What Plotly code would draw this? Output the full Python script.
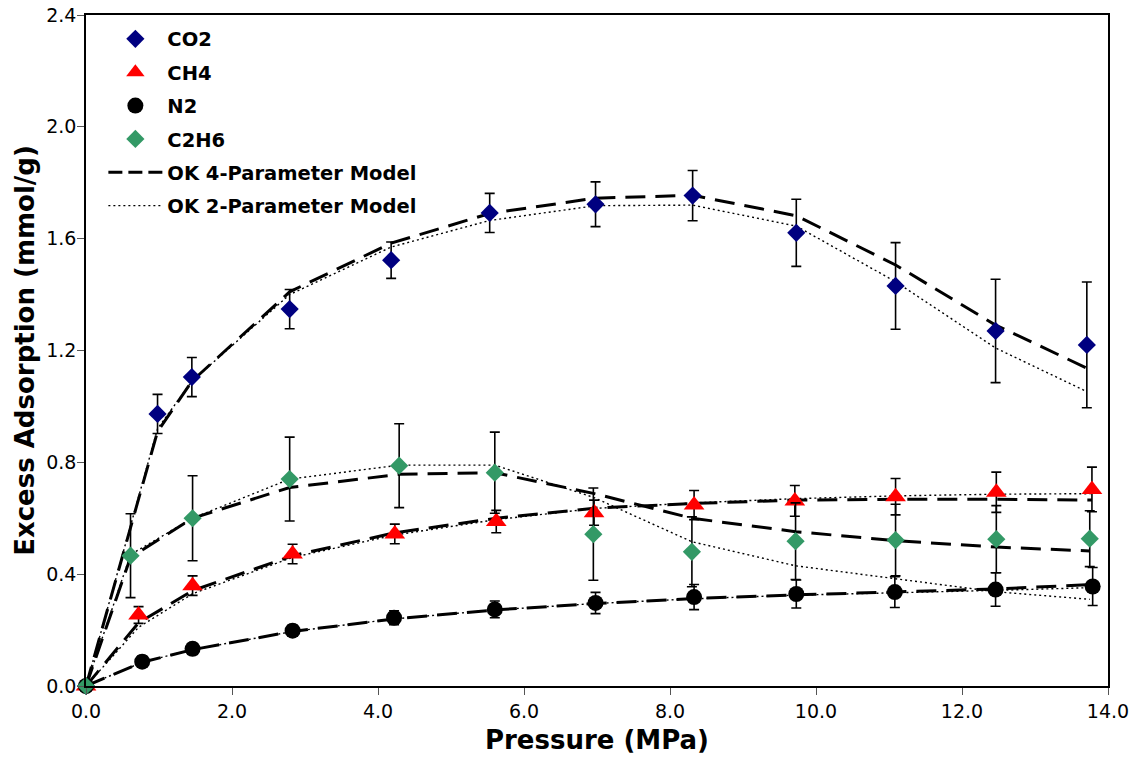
import plotly.graph_objects as go

# Pressure (MPa), excess adsorption (mmol/g), error and model fits per gas
CO2_P = [0.0, 0.98, 1.45, 2.79, 4.18, 5.53, 6.98, 8.31, 9.73, 11.09, 12.46, 13.71]
CO2_Q = [0.0, 0.973, 1.105, 1.348, 1.523, 1.692, 1.723, 1.754, 1.621, 1.431, 1.270, 1.220]
CO2_ERR = [0.0, 0.07, 0.07, 0.07, 0.065, 0.07, 0.08, 0.09, 0.12, 0.155, 0.185, 0.225]
CO2_4P = [0.0, 0.91, 1.09, 1.41, 1.584, 1.69, 1.745, 1.755, 1.682, 1.506, 1.291, 1.137]
CO2_2P = [0.0, 0.92, 1.09, 1.40, 1.57, 1.665, 1.718, 1.72, 1.645, 1.446, 1.209, 1.053]

CH4_P = [0.0, 0.72, 1.46, 2.83, 4.23, 5.62, 6.96, 8.33, 9.71, 11.09, 12.47, 13.78]
CH4_Q = [0.0, 0.254, 0.359, 0.472, 0.544, 0.588, 0.62, 0.647, 0.662, 0.677, 0.693, 0.703]
CH4_ERR = [0.0, 0.03, 0.035, 0.035, 0.035, 0.04, 0.045, 0.052, 0.055, 0.065, 0.072, 0.08]
CH4_4P = [0.0, 0.226, 0.341, 0.466, 0.548, 0.60, 0.636, 0.653, 0.665, 0.668, 0.668, 0.665]
CH4_2P = [0.0, 0.21, 0.33, 0.46, 0.54, 0.595, 0.635, 0.655, 0.67, 0.68, 0.686, 0.688]

N2_P = [0.0, 0.77, 1.46, 2.83, 4.22, 5.60, 6.98, 8.33, 9.73, 11.08, 12.46, 13.79]
N2_Q = [0.0, 0.087, 0.133, 0.198, 0.244, 0.274, 0.297, 0.318, 0.329, 0.336, 0.345, 0.356]
N2_ERR = [0.0, 0.02, 0.02, 0.02, 0.025, 0.03, 0.038, 0.045, 0.05, 0.055, 0.06, 0.068]
N2_4P = [0.0, 0.085, 0.13, 0.195, 0.24, 0.272, 0.295, 0.313, 0.326, 0.336, 0.347, 0.363]
N2_2P = [0.0, 0.085, 0.13, 0.195, 0.24, 0.272, 0.295, 0.312, 0.325, 0.333, 0.342, 0.352]

C2H6_P = [0.0, 0.61, 1.46, 2.79, 4.29, 5.60, 6.95, 8.30, 9.72, 11.09, 12.47, 13.75]
C2H6_Q = [0.0, 0.466, 0.60, 0.74, 0.788, 0.763, 0.543, 0.48, 0.518, 0.522, 0.525, 0.527]
C2H6_ERR = [0.0, 0.15, 0.152, 0.15, 0.15, 0.145, 0.165, 0.125, 0.137, 0.128, 0.12, 0.10]
C2H6_4P = [0.0, 0.46, 0.60, 0.71, 0.757, 0.763, 0.689, 0.60, 0.552, 0.52, 0.497, 0.483]
C2H6_2P = [0.0, 0.47, 0.60, 0.74, 0.79, 0.79, 0.675, 0.516, 0.43, 0.385, 0.337, 0.31]

X_TICKS = [0, 2, 4, 6, 8, 10, 12, 14]
Y_TICKS = [0.0, 0.4, 0.8, 1.2, 1.6, 2.0, 2.4]

FONT = "DejaVu Sans, Verdana, sans-serif"
DASH4 = "20px,10px"
DOT2 = "2px,3px"

fig = go.Figure()

# Model fit curves
fits = [(CO2_P, CO2_4P, CO2_2P), (CH4_P, CH4_4P, CH4_2P),
        (N2_P, N2_4P, N2_2P), (C2H6_P, C2H6_4P, C2H6_2P)]
for p, m4, m2 in fits:
    fig.add_trace(go.Scatter(x=p, y=m2, mode="lines", showlegend=False,
                             line=dict(color="black", width=1.4, dash=DOT2),
                             hoverinfo="skip"))
    fig.add_trace(go.Scatter(x=p, y=m4, mode="lines", showlegend=False,
                             line=dict(color="black", width=3, dash=DASH4),
                             hoverinfo="skip"))

# Measured data with error bars
series = [
    ("CO2", CO2_P, CO2_Q, CO2_ERR, "diamond", "#000080", 14),
    ("CH4", CH4_P, CH4_Q, CH4_ERR, "triangle-up", "#FF0000", 18),
    ("N2", N2_P, N2_Q, N2_ERR, "circle", "black", 16),
    ("C2H6", C2H6_P, C2H6_Q, C2H6_ERR, "diamond", "#339966", 14),
]
for i, (name, p, q, e, sym, col, sz) in enumerate(series):
    fig.add_trace(go.Scatter(
        x=p, y=q, name=name, mode="markers", cliponaxis=False,
        legendgroup=f"g{i}",
        marker=dict(symbol=sym, color=col, size=sz, line=dict(width=0)),
        error_y=dict(type="data", array=e, visible=True, color="black",
                     thickness=1.6, width=5),
    ))

# Legend entries for the model curves
fig.add_trace(go.Scatter(x=[None], y=[None], mode="lines", name="OK 4-Parameter Model",
                         legendgroup="g4",
                         line=dict(color="black", width=3, dash="14px,6px")))
fig.add_trace(go.Scatter(x=[None], y=[None], mode="lines", name="OK 2-Parameter Model",
                         legendgroup="g5",
                         line=dict(color="black", width=1.4, dash=DOT2)))

axis_common = dict(
    showline=True, linecolor="black", linewidth=1.5, mirror=True,
    ticks="outside", ticklen=7, tickwidth=1, tickcolor="#555555",
    showgrid=False, zeroline=False, automargin=False,
    tickfont=dict(family=FONT, size=19, color="black"),
)

fig.update_layout(
    width=1142, height=763,
    margin=dict(l=86, r=34, t=15, b=77),
    paper_bgcolor="white", plot_bgcolor="white",
    font=dict(family=FONT, color="black"),
    xaxis=dict(range=[0, 14], tickvals=X_TICKS,
               ticktext=[f"{v:.1f}" for v in X_TICKS],
               title=dict(text="Pressure (MPa)", standoff=10,
                          font=dict(family=FONT, size=26, weight="bold")),
               **axis_common),
    yaxis=dict(range=[0, 2.4], tickvals=Y_TICKS,
               ticktext=[f"{v:.1f}" for v in Y_TICKS],
               ticklabelstandoff=-3,
               title=dict(text="Excess Adsorption (mmol/g)", standoff=4,
                          font=dict(family=FONT, size=26, weight="bold")),
               **axis_common),
    legend=dict(x=0.017, y=0.993, xanchor="left", yanchor="top",
                bgcolor="rgba(255,255,255,0)", borderwidth=0,
                traceorder="grouped", tracegroupgap=5,
                font=dict(family=FONT, size=19.5, weight="bold", color="black"),
                itemwidth=54),
    showlegend=True,
)

fig.write_html("out.html")
